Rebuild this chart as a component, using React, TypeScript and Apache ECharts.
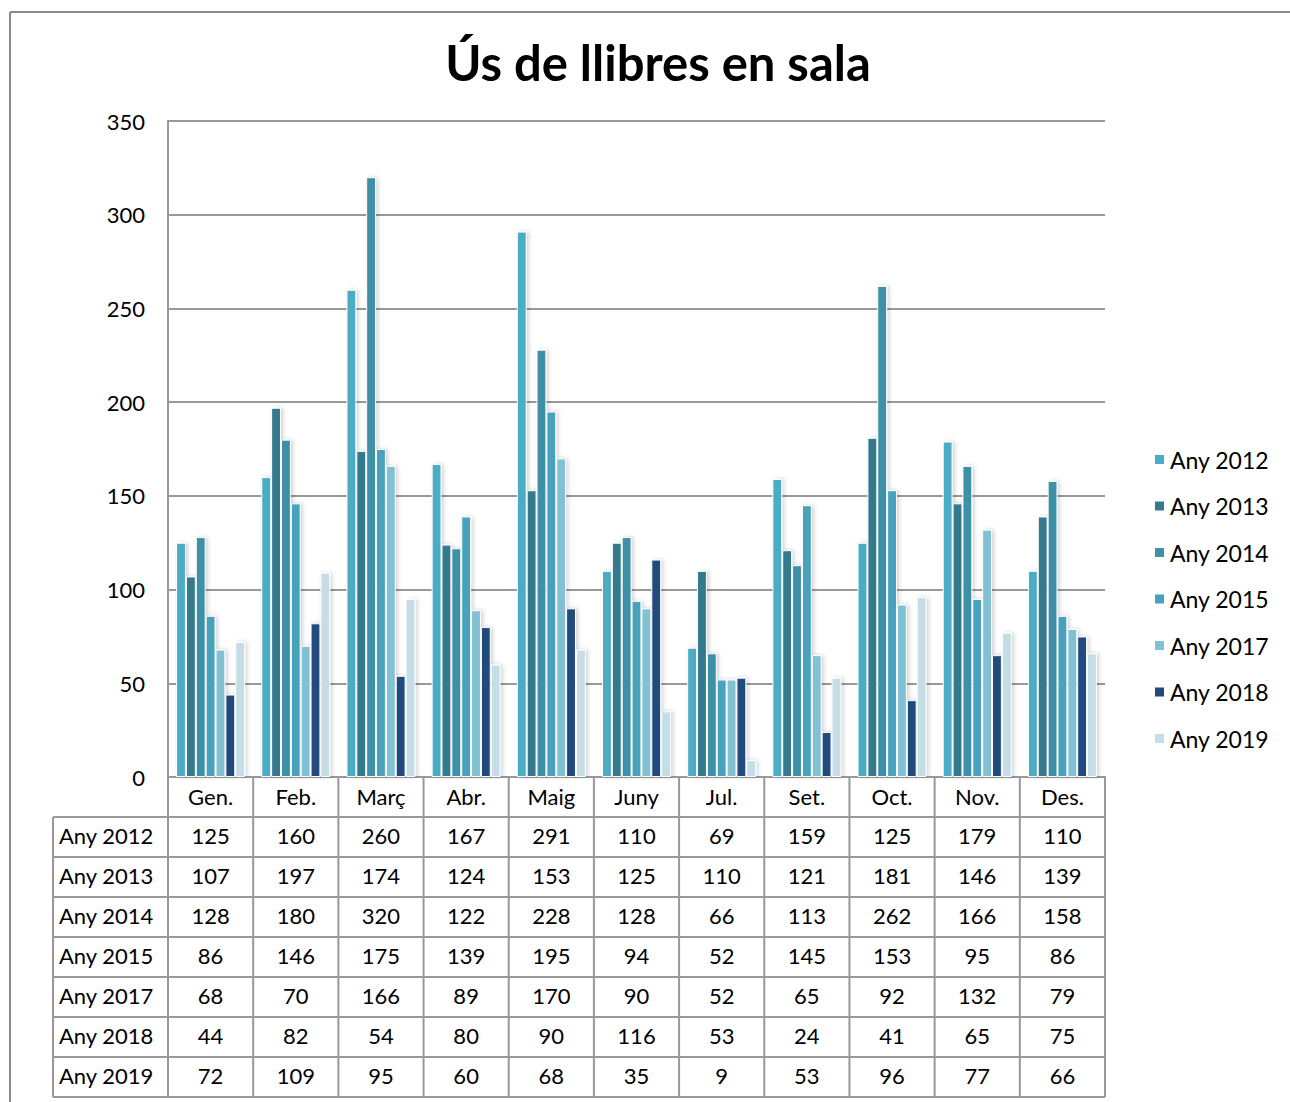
import React, { useEffect, useRef } from "react";
import * as echarts from "echarts";

const months = ["Gen.", "Feb.", "Març", "Abr.", "Maig", "Juny", "Jul.", "Set.", "Oct.", "Nov.", "Des."];
const seriesNames = ["Any 2012", "Any 2013", "Any 2014", "Any 2015", "Any 2017", "Any 2018", "Any 2019"];
const any2012 = [125, 160, 260, 167, 291, 110, 69, 159, 125, 179, 110];
const any2013 = [107, 197, 174, 124, 153, 125, 110, 121, 181, 146, 139];
const any2014 = [128, 180, 320, 122, 228, 128, 66, 113, 262, 166, 158];
const any2015 = [86, 146, 175, 139, 195, 94, 52, 145, 153, 95, 86];
const any2017 = [68, 70, 166, 89, 170, 90, 52, 65, 92, 132, 79];
const any2018 = [44, 82, 54, 80, 90, 116, 53, 24, 41, 65, 75];
const any2019 = [72, 109, 95, 60, 68, 35, 9, 53, 96, 77, 66];
const allValues = [any2012, any2013, any2014, any2015, any2017, any2018, any2019];
const colors = ["#4BACC6", "#347A8C", "#3D90A6", "#48A2BC", "#82C0D3", "#224B7D", "#C4DDE7"];
const yTicks = { min: 0, max: 350, interval: 50 };

const FONT = "Lato, 'Open Sans', sans-serif";

export default function App() {
  const ref = useRef<HTMLDivElement>(null);
  useEffect(() => {
    document.body.style.margin = "0";
    const chart = echarts.init(ref.current!, null, { renderer: "svg" });
    const gridLeft = 168;
    const gridTop = 121;
    const gridW = 937;
    const gridH = 656;
    const catW = gridW / months.length;
    const tableLeft = 53;
    const rowH = 40;
    const headTop = gridTop + gridH;
    const bodyTop = headTop + rowH;
    const lineColor = "#999999";
    const graphics: any[] = [];
    // frame
    graphics.push({ type: "line", shape: { x1: 10, y1: 12, x2: 1290, y2: 12 }, style: { stroke: "#8a8a8a", lineWidth: 2 } });
    graphics.push({ type: "line", shape: { x1: 10, y1: 12, x2: 10, y2: 1102 }, style: { stroke: "#8a8a8a", lineWidth: 2 } });
    const bodyBottom = bodyTop + rowH * seriesNames.length;
    for (let i = 0; i <= months.length; i++) {
      const x = gridLeft + i * catW;
      graphics.push({ type: "line", shape: { x1: x, y1: headTop, x2: x, y2: bodyBottom }, style: { stroke: lineColor, lineWidth: 2 } });
    }
    graphics.push({ type: "line", shape: { x1: tableLeft, y1: bodyTop, x2: tableLeft, y2: bodyBottom }, style: { stroke: lineColor, lineWidth: 2 } });
    for (let r = 0; r <= seriesNames.length; r++) {
      const y = bodyTop + r * rowH;
      graphics.push({ type: "line", shape: { x1: tableLeft, y1: y, x2: gridLeft + gridW, y2: y }, style: { stroke: lineColor, lineWidth: 2 } });
    }
    graphics.push({ type: "line", shape: { x1: gridLeft, y1: headTop, x2: gridLeft + gridW, y2: headTop }, style: { stroke: lineColor, lineWidth: 2 } });
    seriesNames.forEach((name, r) => {
      const cy = bodyTop + r * rowH + rowH / 2 - 2;
      graphics.push({ type: "text", x: tableLeft + 6, y: cy, style: { text: name, font: `22px ${FONT}`, fill: "#000", align: "left", verticalAlign: "middle" } });
      allValues[r].forEach((v, i) => {
        graphics.push({ type: "text", x: gridLeft + (i + 0.5) * catW, y: cy, style: { text: String(v), font: `22px ${FONT}`, fill: "#000", align: "center", verticalAlign: "middle" } });
      });
    });
    chart.setOption({
      animation: false,
      backgroundColor: "#fff",
      title: {
        text: "Ús de llibres en sala",
        left: 653,
        top: 32,
        textAlign: "center",
        textStyle: { fontFamily: FONT, fontSize: 49, fontWeight: "bold", color: "#000" },
      },
      legend: {
        orient: "vertical",
        left: 1148,
        top: 443,
        itemWidth: 11,
        itemHeight: 11,
        itemGap: 23.5,
        icon: "rect",
        textStyle: { fontFamily: FONT, fontSize: 23, color: "#000" },
        data: seriesNames,
      },
      grid: { left: gridLeft, top: gridTop, width: gridW, height: gridH, containLabel: false },
      xAxis: {
        type: "category",
        data: months,
        axisLine: { lineStyle: { color: lineColor, width: 2 } },
        axisTick: { show: false },
        axisLabel: { fontFamily: FONT, fontSize: 22, color: "#000", margin: 8 },
      },
      yAxis: {
        type: "value",
        min: yTicks.min,
        max: yTicks.max,
        interval: yTicks.interval,
        axisLine: { show: true, lineStyle: { color: lineColor, width: 2 } },
        axisTick: { show: false },
        splitLine: { lineStyle: { color: lineColor, width: 2 } },
        axisLabel: { fontFamily: FONT, fontSize: 22, color: "#000", margin: 23 },
      },
      series: seriesNames.map((name, k) => ({
        name,
        type: "bar",
        data: allValues[k],
        barGap: "0%",
        barCategoryGap: "19%",
        itemStyle: {
          color: colors[k],
          borderColor: "#fff",
          borderWidth: 1,
          shadowBlur: 4,
          shadowColor: "rgba(0,0,0,0.18)",
          shadowOffsetX: 2,
          shadowOffsetY: 0,
        },
      })),
      graphic: graphics,
    });
    return () => chart.dispose();
  }, []);
  return <div ref={ref} style={{ width: 1290, height: 1102 }} />;
}
